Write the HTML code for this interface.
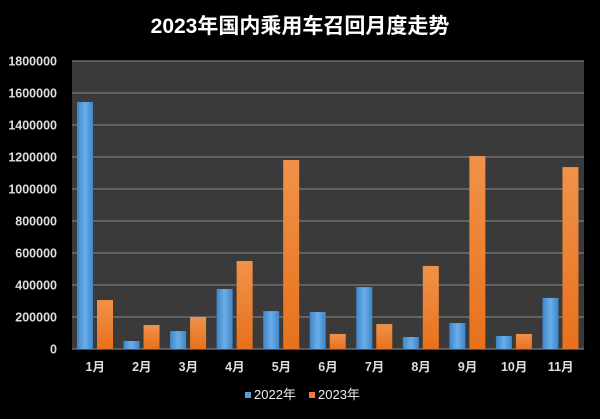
<!DOCTYPE html>
<html><head><meta charset="utf-8"><style>
body{margin:0;background:#000;}
svg{display:block;font-family:"Liberation Sans","Noto Sans CJK SC",sans-serif;}
</style></head><body>
<svg id="chart" width="600" height="419">
<defs>
<linearGradient id="gb" x1="0" x2="1"><stop offset="0" stop-color="#3f86c9"/><stop offset="0.5" stop-color="#6aaee8"/><stop offset="1" stop-color="#3f86c9"/></linearGradient>
<linearGradient id="go" x1="0" x2="0" y1="0" y2="1"><stop offset="0" stop-color="#f0924a"/><stop offset="1" stop-color="#e8711c"/></linearGradient>
</defs>
<rect width="600" height="419" fill="#000"/>
<text x="300" y="33" text-anchor="middle" fill="#fff" font-size="21" font-weight="bold">2023年国内乘用车召回月度走势</text>
<rect x="72" y="61" width="512" height="288" fill="#3a3a3a"/>
<g id="grid"></g><g id="bars"></g><g id="labels"></g>
<g>
<rect x="245" y="392" width="6" height="6" fill="#5b9bd5"/>
<text x="254" y="399" fill="#eee" font-size="13">2022年</text>
<rect x="309" y="392" width="6" height="6" fill="#ed7d31"/>
<text x="318" y="399" fill="#eee" font-size="13">2023年</text>
</g>
</svg>
<script>
const categories=["1月","2月","3月","4月","5月","6月","7月","8月","9月","10月","11月"];
const series2022=[1544000,50000,112000,375000,237000,231000,387000,75000,162000,81000,319000];
const series2023=[306000,150000,200000,550000,1181000,94000,156000,519000,1206000,94000,1137000];
const yTicks=[0,200000,400000,600000,800000,1000000,1200000,1400000,1600000,1800000];
const NS="http://www.w3.org/2000/svg";
const X0=72,X1=584,Y0=349,Y1=61,YMAX=1800000;
const y=v=>Y0-(v/YMAX)*(Y0-Y1);
const cw=(X1-X0)/categories.length;
const x=i=>X0+i*cw;
function mk(tag,attrs,parent){const e=document.createElementNS(NS,tag);for(const k in attrs)e.setAttribute(k,attrs[k]);document.getElementById(parent).appendChild(e);return e;}
yTicks.forEach(t=>{
  const l=mk("line",{x1:X0,x2:X1,y1:y(t),y2:y(t),stroke:"#7a7a7a","stroke-width":1.3},"grid");
  
  
  const tx=mk("text",{x:57,y:y(t)+4.5,"text-anchor":"end",fill:"#ddd","font-size":12.5,"font-weight":"bold"},"labels");
  tx.textContent=t;
  
  
});
categories.forEach((c,i)=>{
  const b=mk("rect",{x:x(i)+5,y:y(series2022[i]),width:16,height:Y0-y(series2022[i]),fill:"url(#gb)"},"bars");
  
  
  const o=mk("rect",{x:x(i)+25,y:y(series2023[i]),width:16,height:Y0-y(series2023[i]),fill:"url(#go)"},"bars");
  
  
  const t=mk("text",{x:x(i)+cw/2,y:371,"text-anchor":"middle",fill:"#ddd","font-size":12.5,"font-weight":"bold"},"labels");
  t.textContent=c;
  
  
});
</script>
</body></html>
